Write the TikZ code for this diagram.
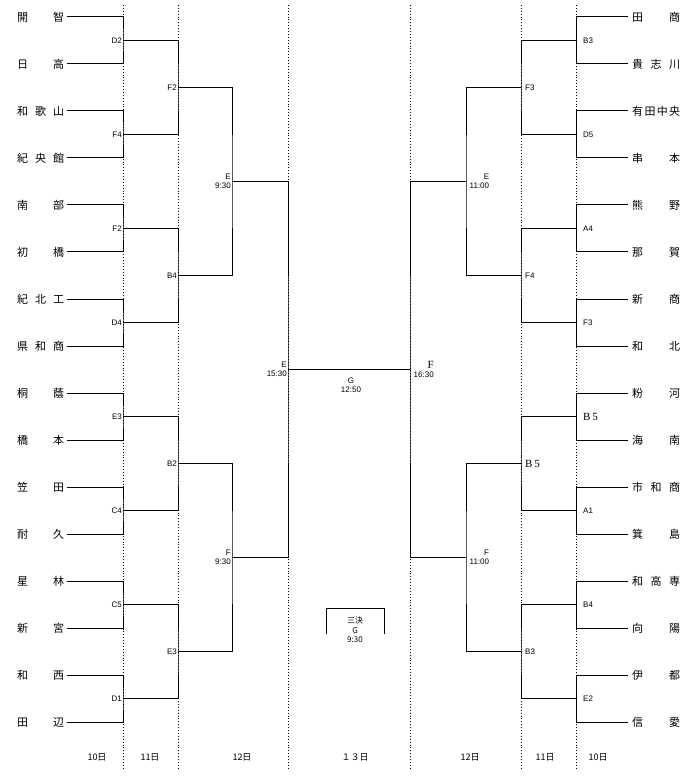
\documentclass[tikz,border=0pt]{standalone}
\usepackage{fontspec}
\setmainfont{Liberation Sans}
\newfontfamily\jp{Noto Sans CJK JP}
\newfontfamily\sr{Liberation Serif}
\begin{document}
\begin{tikzpicture}[x=1pt,y=-1pt,
  conn/.style={draw=black, line width=1pt},
  daysep/.style={draw=black, line width=0.9pt, dotted},
  lname/.style={font=\jp\fontsize{11}{12}\selectfont, text width=47pt, inner xsep=2.5pt, inner ysep=0pt, anchor=west},
  rname/.style={font=\jp\fontsize{11}{12}\selectfont, text width=48pt, inner xsep=4pt, inner ysep=0pt, anchor=west},
  lbl/.style={font=\fontsize{8}{9}\selectfont, inner sep=0.5pt},
  day/.style={font=\jp\fontsize{9}{10}\selectfont, inner sep=0pt}]
\path[use as bounding box] (0,0) rectangle (700,783);
% day separators
\foreach \x in {123,178,288,410,521,576} \draw[daysep] (\x,5) -- (\x,770);
% left teams
\foreach \nm [count=\i from 0] in {開\hfill 智,日\hfill 高,和\hfill 歌\hfill 山,紀\hfill 央\hfill 館,南\hfill 部,初\hfill 橋,紀\hfill 北\hfill 工,県\hfill 和\hfill 商,桐\hfill 蔭,橋\hfill 本,笠\hfill 田,耐\hfill 久,星\hfill 林,新\hfill 宮,和\hfill 西,田\hfill 辺}
  \node[lname] (L\i) at (14.5,17+47*\i) {\nm};
% right teams
\foreach \nm [count=\i from 0] in {田\hfill 商,貴\hfill 志\hfill 川,有\hfill 田\hfill 中\hfill 央,串\hfill 本,熊\hfill 野,那\hfill 賀,新\hfill 商,和\hfill 北,粉\hfill 河,海\hfill 南,市\hfill 和\hfill 商,箕\hfill 島,和\hfill 高\hfill 専,向\hfill 陽,伊\hfill 都,信\hfill 愛}
  \node[rname] (R\i) at (628,17+47*\i) {\nm};
% round 1
\foreach \k in {0,...,7}{
  \pgfmathtruncatemacro\a{2*\k}\pgfmathtruncatemacro\b{2*\k+1}
  \coordinate (LA\k) at (123,40.5+94*\k);
  \coordinate (RA\k) at (576,40.5+94*\k);
  \draw[conn] (L\a.east) -| (LA\k) |- (L\b.east);
  \draw[conn] (R\a.west) -| (RA\k) |- (R\b.west);
}
% round 2
\foreach \k in {0,...,3}{
  \pgfmathtruncatemacro\a{2*\k}\pgfmathtruncatemacro\b{2*\k+1}
  \coordinate (LB\k) at (178,87.5+188*\k);
  \coordinate (RB\k) at (521,87.5+188*\k);
  \draw[conn] (LA\a) -| (LB\k) |- (LA\b);
  \draw[conn] (RA\a) -| (RB\k) |- (RA\b);
}
% round 3
\foreach \k in {0,1}{
  \pgfmathtruncatemacro\a{2*\k}\pgfmathtruncatemacro\b{2*\k+1}
  \coordinate (LC\k) at (232,181.5+376*\k);
  \coordinate (RC\k) at (466,181.5+376*\k);
  \draw[conn] (LB\a) -| (LC\k) |- (LB\b);
  \draw[conn] (RB\a) -| (RC\k) |- (RB\b);
}
% semifinals and final
\coordinate (LD) at (288,369.5);
\coordinate (RD) at (410,369.5);
\draw[conn] (LC0) -| (LD) |- (LC1);
\draw[conn] (RC0) -| (RD) |- (RC1);
\draw[conn] (LD) -- (RD);
% labels left
\foreach \t [count=\k from 0] in {D2,F4,F2,D4,E3,C4,C5,D1}
  \node[lbl, anchor=east] (la\k) at (122.5,40.5+94*\k) {\t};
\foreach \t [count=\k from 0] in {F2,B4,B2,E3}
  \node[lbl, anchor=east] (lb\k) at (177.5,87.5+188*\k) {\t};
\node[lbl, anchor=east, align=right] (lc0) at (231.5,181.5) {E\\9:30};
\node[lbl, anchor=east, align=right] (lc1) at (231.5,557.5) {F\\9:30};
% labels right
\foreach \t [count=\k from 0] in {B3,D5,A4,F3,{\sr\fontsize{11}{11}\selectfont B\,5},A1,B4,E2}
  \node[lbl, anchor=west] (ra\k) at (582.5,40.5+94*\k) {\t};
\foreach \t [count=\k from 0] in {F3,F4,{\sr\fontsize{11}{11}\selectfont B\,5},B3}
  \node[lbl, anchor=west] (rb\k) at (524.5,87.5+188*\k) {\t};
\node[lbl, anchor=west, align=right] (rc0) at (469,181.5) {E\\11:00};
\node[lbl, anchor=west, align=right] (rc1) at (469,557.5) {F\\11:00};
% final labels
\node[lbl, anchor=east, align=right] (le) at (287.5,369.5) {E\\15:30};
\node[lbl, anchor=west, align=right] (rf) at (413,369.5) {{\sr\fontsize{11}{11}\selectfont F}\\16:30};
\node[lbl, align=center] (g) at (351,385) {G\\12:50};
% third place box
\draw[conn] (326,634) -- (326,608) -- (384,608) -- (384,634);
\node[lbl, align=center, font=\jp\fontsize{8}{9.5}\selectfont] (tk) at (355,630) {三決\\G\\9:30};
% days
\node[day] (d1) at (97,757) {10日};
\node[day] (d2) at (150,757) {11日};
\node[day] (d3) at (242,757) {12日};
\node[day] (d4) at (355,757) {１３日};
\node[day] (d5) at (470,757) {12日};
\node[day] (d6) at (545,757) {11日};
\node[day] (d7) at (598,757) {10日};
\end{tikzpicture}
\end{document}
